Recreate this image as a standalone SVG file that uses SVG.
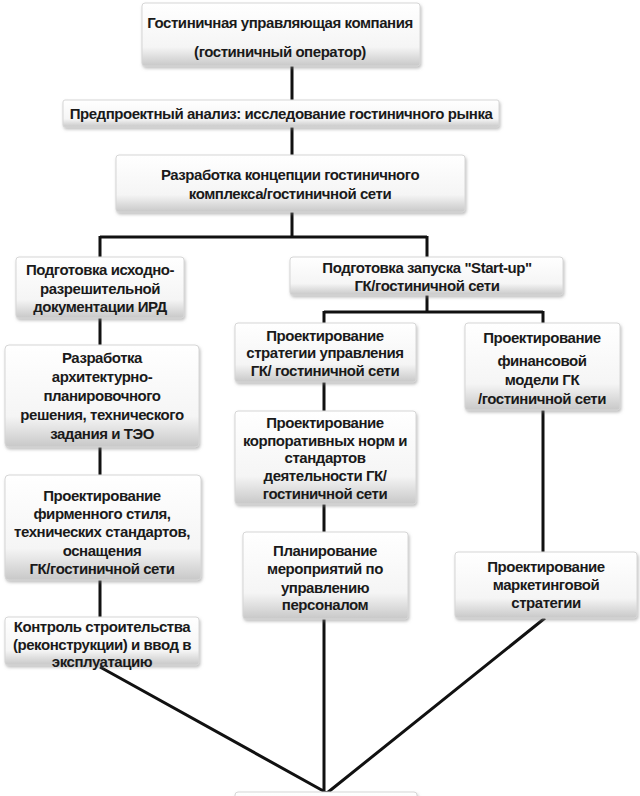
<svg xmlns="http://www.w3.org/2000/svg" width="640" height="796" viewBox="0 0 640 796">
<defs>
<linearGradient id="bg" x1="0" y1="0" x2="0" y2="1">
<stop offset="0" stop-color="#ffffff"/>
<stop offset="0.7" stop-color="#f5f5f5"/>
<stop offset="1" stop-color="#c8c8c8"/>
</linearGradient>
<filter id="sh" x="-10%" y="-10%" width="120%" height="130%">
<feDropShadow dx="1" dy="2" stdDeviation="1.5" flood-color="#808080" flood-opacity="0.5"/>
</filter>
</defs>
<style>
.box{fill:url(#bg);stroke:#d6d6d6;stroke-width:1;filter:url(#sh)}
.t{font-family:"Liberation Sans",Arial,sans-serif;font-weight:bold;font-size:15px;fill:#1a1a1a;text-anchor:middle;letter-spacing:-0.45px}
.c{fill:none;stroke:#111;stroke-width:3}
</style>
<rect width="640" height="796" fill="#ffffff"/>
<g id="connectors">
<path class="c" d="M292 66V100M292 127V155M292 212V237M100 237H427M100 236V257M427 236V257M427 295V312M324 312H543M324 311V323M543 311V323M100 318V345M100 447V475M100 580V617M324 382V411M324 504V532M324 619V793M543 410V552M545 618L327 793M100 667L327 793"/>
</g>
<g id="n1"><rect class="box" x="142" y="3" width="278" height="63" rx="3"/>
<text class="t" x="280" y="28">Гостиничная управляющая компания</text>
<text class="t" x="280" y="57">(гостиничный оператор)</text></g>
<g id="n2"><rect class="box" x="63" y="100" width="436" height="27" rx="2"/>
<text class="t" x="281" y="119">Предпроектный анализ: исследование гостиничного рынка</text></g>
<g id="n3"><rect class="box" x="116" y="155" width="349" height="57" rx="3"/>
<text class="t" x="290" y="180">Разработка концепции гостиничного</text>
<text class="t" x="290" y="199">комплекса/гостиничной сети</text></g>
<g id="n4"><rect class="box" x="16" y="257" width="168" height="61" rx="3"/>
<text class="t" x="100" y="275">Подготовка исходно-</text>
<text class="t" x="100" y="294">разрешительной</text>
<text class="t" x="100" y="312">документации ИРД</text></g>
<g id="n5"><rect class="box" x="290" y="257" width="273" height="38" rx="3"/>
<text class="t" x="427" y="273">Подготовка запуска "Start-up"</text>
<text class="t" x="427" y="291">ГК/гостиничной сети</text></g>
<g id="n6"><rect class="box" x="235" y="323" width="181" height="59" rx="3"/>
<text class="t" x="325" y="341">Проектирование</text>
<text class="t" x="325" y="358">стратегии управления</text>
<text class="t" x="325" y="376">ГК/ гостиничной сети</text></g>
<g id="n7"><rect class="box" x="465" y="323" width="155" height="87" rx="3"/>
<text class="t" x="542" y="343">Проектирование</text>
<text class="t" x="542" y="366">финансовой</text>
<text class="t" x="542" y="385">модели ГК</text>
<text class="t" x="542" y="404">/гостиничной сети</text></g>
<g id="n8"><rect class="box" x="5" y="345" width="194" height="102" rx="4"/>
<text class="t" x="102" y="363">Разработка</text>
<text class="t" x="102" y="382">архитектурно-</text>
<text class="t" x="102" y="401">планировочного</text>
<text class="t" x="102" y="420">решения, технического</text>
<text class="t" x="102" y="439">задания и ТЭО</text></g>
<g id="n9"><rect class="box" x="235" y="411" width="181" height="93" rx="3"/>
<text class="t" x="325" y="428">Проектирование</text>
<text class="t" x="325" y="446">корпоративных норм и</text>
<text class="t" x="325" y="463">стандартов</text>
<text class="t" x="325" y="481">деятельности ГК/</text>
<text class="t" x="325" y="499">гостиничной сети</text></g>
<g id="n10"><rect class="box" x="5" y="475" width="196" height="105" rx="4"/>
<text class="t" x="102" y="501">Проектирование</text>
<text class="t" x="102" y="519">фирменного стиля,</text>
<text class="t" x="102" y="537">технических стандартов,</text>
<text class="t" x="102" y="556">оснащения</text>
<text class="t" x="102" y="574">ГК/гостиничной сети</text></g>
<g id="n11"><rect class="box" x="243" y="532" width="165" height="87" rx="3"/>
<text class="t" x="325" y="556">Планирование</text>
<text class="t" x="325" y="574">мероприятий по</text>
<text class="t" x="325" y="593">управлению</text>
<text class="t" x="325" y="610">персоналом</text></g>
<g id="n12"><rect class="box" x="455" y="552" width="182" height="66" rx="3"/>
<text class="t" x="546" y="572">Проектирование</text>
<text class="t" x="546" y="590">маркетинговой</text>
<text class="t" x="546" y="608">стратегии</text></g>
<g id="n13"><rect class="box" x="5" y="617" width="194" height="48" rx="3"/>
<text class="t" x="102" y="632">Контроль строительства</text>
<text class="t" x="102" y="650">(реконструкции) и ввод в</text>
<text class="t" x="102" y="667">эксплуатацию</text></g>
<g id="n14"><rect class="box" x="235" y="792" width="182" height="30" rx="3"/></g>
</svg>
